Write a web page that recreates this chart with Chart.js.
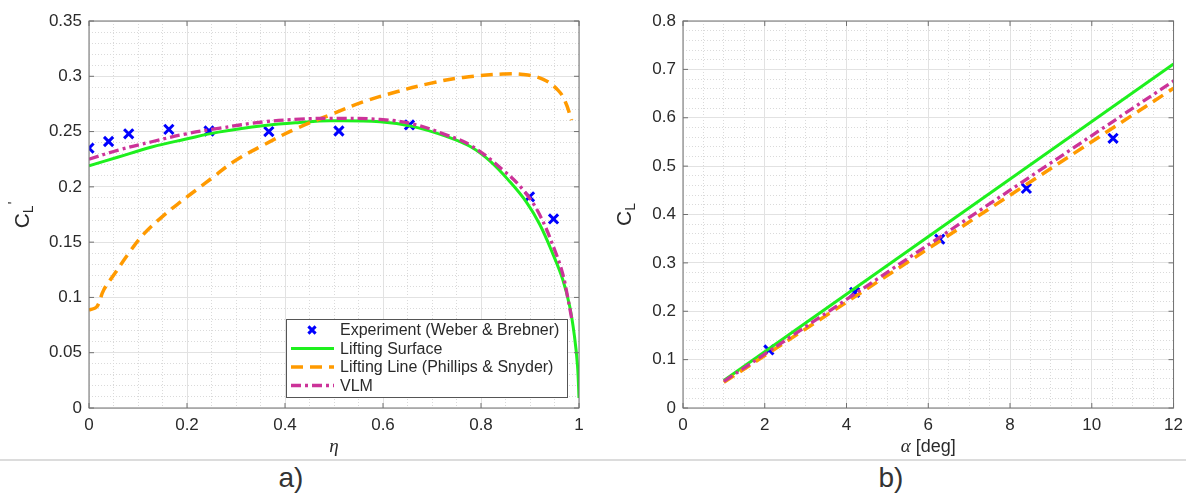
<!DOCTYPE html>
<html lang="en">
<head>
    <meta charset="UTF-8">
    <title>Spanwise lift distribution and lift curve</title>
    <script src="https://cdn.jsdelivr.net/npm/chart.js"></script>
    <style>
        body { margin: 0; background: #fff; }
        #wrap { position: relative; width: 1190px; height: 493px; }
        .panel { position: absolute; top: 0; width: 595px; height: 458px; }
        .sep { position: absolute; left: 0; top: 459px; width: 1186px; height: 2px; background: #dcdcdc; }
        .lab { position: absolute; top: 462px; font: 28px "Liberation Sans", Arial, sans-serif; color: #333; transform: translateX(-50%); }
    </style>
</head>
<body>
<div id="wrap">
    <div class="panel" style="left:0"><canvas id="chartA"></canvas></div>
    <div class="panel" style="left:595px"><canvas id="chartB"></canvas></div>
    <div class="sep"></div>
    <div class="lab" style="left:291px">a)</div>
    <div class="lab" style="left:891px">b)</div>
</div>

<script>
    // --- a) spanwise lift distribution ---
    const etaTicks = [0, 0.2, 0.4, 0.6, 0.8, 1];
    const clPrimeTicks = [0, 0.05, 0.1, 0.15, 0.2, 0.25, 0.3, 0.35];

    const expEta = [0, 0.04, 0.081, 0.163, 0.245, 0.367, 0.51, 0.654, 0.899, 0.948];
    const expClPrime = [0.235, 0.241, 0.248, 0.252, 0.2505, 0.25, 0.2505, 0.256, 0.191, 0.171];

    const lsEta = [0, 0.06, 0.128, 0.196, 0.264, 0.359, 0.43, 0.492, 0.594, 0.662, 0.73, 0.778, 0.818, 0.859, 0.893, 0.92, 0.947, 0.967, 0.981, 0.991, 0.997, 1.0];
    const lsClPrime = [0.219, 0.227, 0.236, 0.243, 0.2495, 0.2555, 0.2583, 0.2598, 0.2589, 0.2545, 0.2455, 0.2365, 0.2235, 0.2046, 0.186, 0.166, 0.139, 0.116, 0.092, 0.064, 0.038, 0.009];

    const llEta = [0, 0.016, 0.03, 0.054, 0.081, 0.111, 0.152, 0.19, 0.223, 0.254, 0.295, 0.356, 0.424, 0.492, 0.56, 0.628, 0.696, 0.764, 0.845, 0.886, 0.927, 0.957, 0.972, 0.985];
    const llClPrime = [0.0886, 0.0916, 0.1067, 0.1225, 0.1399, 0.157, 0.174, 0.1875, 0.1986, 0.209, 0.2227, 0.2378, 0.2529, 0.265, 0.277, 0.286, 0.2936, 0.299, 0.302, 0.3017, 0.2972, 0.2875, 0.277, 0.2604];

    const vlmEta = [0, 0.06, 0.128, 0.196, 0.264, 0.359, 0.43, 0.492, 0.594, 0.662, 0.73, 0.778, 0.845, 0.889, 0.92, 0.952, 0.967, 0.977, 0.985];
    const vlmClPrime = [0.225, 0.2333, 0.2408, 0.2477, 0.2529, 0.2589, 0.2612, 0.262, 0.261, 0.2568, 0.2468, 0.2378, 0.2152, 0.1956, 0.1745, 0.141, 0.121, 0.1, 0.081];

    // --- b) lift curve ---
    const alphaTicks = [0, 2, 4, 6, 8, 10, 12];
    const clTicks = [0, 0.1, 0.2, 0.3, 0.4, 0.5, 0.6, 0.7, 0.8];

    const expAlpha = [2.1, 4.2, 6.28, 8.4, 10.52];
    const expCl = [0.12, 0.239, 0.349, 0.454, 0.5575];

    const lineAlpha = [1, 12];
    const lsCl = [0.057, 0.711];
    const llCl = [0.053, 0.661];
    const vlmCl = [0.055, 0.676];

    const labels = ['Experiment (Weber & Brebner)', 'Lifting Surface', 'Lifting Line (Phillips & Snyder)', 'VLM'];

    const TXT = '#2a2a2a';
    const SANS = '"Liberation Sans", Arial, Helvetica, sans-serif';

    function pts(xs, ys) { return xs.map((x, i) => ({x: x, y: ys[i]})); }
    function isMajor(v, list) { return list.some(t => Math.abs(t - v) < 1e-9); }

    function makeDatasets(ex, ey, sx, sy, lx, ly, vx, vy) {
        return [
            { label: labels[0], data: pts(ex, ey), showLine: false, pointStyle: 'crossRot', pointRadius: 6.5,
              borderColor: '#0000ff', backgroundColor: '#0000ff', pointBorderWidth: 3, order: 4 },
            { label: labels[1], data: pts(sx, sy), showLine: true, pointRadius: 0, borderColor: '#1ef01e',
              borderWidth: 3, tension: 0.4, order: 3 },
            { label: labels[2], data: pts(lx, ly), showLine: true, pointRadius: 0, borderColor: '#ff9a00',
              borderWidth: 3.5, borderDash: [12, 7], tension: 0.4, order: 2 },
            { label: labels[3], data: pts(vx, vy), showLine: true, pointRadius: 0, borderColor: '#cc3399',
              borderWidth: 3.3, borderDash: [10, 4, 3, 4], tension: 0.4, order: 1 }
        ];
    }

    // box, inner tick marks, axis titles and legend
    const frame = {
        id: 'frame',
        afterDraw(chart, args, o) {
            const {ctx, chartArea: a, scales: {x, y}} = chart;
            ctx.save();
            ctx.strokeStyle = '#707070';
            ctx.lineWidth = 1;
            ctx.strokeRect(a.left, a.top, a.width, a.height);
            ctx.beginPath();
            o.xMajor.forEach(v => {
                const p = x.getPixelForValue(v);
                ctx.moveTo(p, a.bottom); ctx.lineTo(p, a.bottom - 5);
                ctx.moveTo(p, a.top); ctx.lineTo(p, a.top + 5);
            });
            o.yMajor.forEach(v => {
                const p = y.getPixelForValue(v);
                ctx.moveTo(a.left, p); ctx.lineTo(a.left + 5, p);
                ctx.moveTo(a.right, p); ctx.lineTo(a.right - 5, p);
            });
            ctx.stroke();

            // x title
            ctx.fillStyle = TXT;
            ctx.textBaseline = 'middle';
            const cx = (a.left + a.right) / 2, ty = a.bottom + 39;
            const f1 = 'italic 19px "Liberation Serif", "DejaVu Serif", serif';
            const f2 = '18px ' + SANS;
            ctx.font = f1; const w1 = ctx.measureText(o.xSym).width;
            ctx.font = f2; const w2 = ctx.measureText(o.xRest).width;
            let sx = cx - (w1 + w2) / 2;
            ctx.textAlign = 'left';
            ctx.font = f1; ctx.fillText(o.xSym, sx, ty);
            ctx.font = f2; ctx.fillText(o.xRest, sx + w1, ty);

            // y title: C with subscript L (and prime)
            ctx.save();
            ctx.translate(a.left - o.yTitleOff, (a.top + a.bottom) / 2);
            ctx.rotate(-Math.PI / 2);
            const fc = '21px ' + SANS, fs = '14px ' + SANS;
            ctx.font = fc; const wc = ctx.measureText('C').width;
            ctx.font = fs; const wl = ctx.measureText('L').width;
            const wp = o.prime ? ctx.measureText("'").width + 2 : 0;
            let px = -(wc + wl + wp) / 2;
            ctx.font = fc; ctx.fillText('C', px, 0);
            ctx.font = fs; ctx.fillText('L', px + wc, 6);
            if (o.prime) ctx.fillText("'", px + wc + wl + 1, -9);
            ctx.restore();

            // legend
            if (o.legend) {
                const bw = 281, bh = 78;
                const bx = a.right - 12 - bw, by = a.bottom - 11 - bh;
                ctx.fillStyle = '#fff';
                ctx.fillRect(bx, by, bw, bh);
                ctx.strokeStyle = '#555';
                ctx.lineWidth = 1;
                ctx.strokeRect(bx + 0.5, by + 0.5, bw, bh);
                ctx.font = '16px ' + SANS;
                chart.data.datasets.forEach((ds, i) => {
                    const ry = by + 11 + i * 18.5;
                    if (ds.showLine) {
                        ctx.strokeStyle = ds.borderColor;
                        ctx.lineWidth = ds.borderWidth;
                        ctx.setLineDash(ds.borderDash || []);
                        ctx.beginPath(); ctx.moveTo(bx + 5, ry); ctx.lineTo(bx + 48, ry); ctx.stroke();
                        ctx.setLineDash([]);
                    } else {
                        ctx.strokeStyle = ds.borderColor;
                        ctx.lineWidth = 3;
                        const m = 3.6, mx = bx + 26;
                        ctx.beginPath();
                        ctx.moveTo(mx - m, ry - m); ctx.lineTo(mx + m, ry + m);
                        ctx.moveTo(mx - m, ry + m); ctx.lineTo(mx + m, ry - m);
                        ctx.stroke();
                    }
                    ctx.fillStyle = TXT;
                    ctx.fillText(ds.label, bx + 54, ry + 1);
                });
            }
            ctx.restore();
        }
    };

    function axis(min, max, minor, major, pos, size) {
        const gen = [];
        for (let v = min; v <= max + minor / 2; v += minor) gen.push({value: +v.toFixed(6)});
        return {
            type: 'linear', position: pos, min: min, max: max,
            afterBuildTicks: s => { s.ticks = gen.map(t => ({value: t.value})); },
            afterFit: s => { if (pos === 'left') s.width = size; else s.height = size; },
            grid: {
                drawTicks: false,
                color: c => isMajor(c.tick.value, major) ? '#e2e2e2' : '#dadada',
                lineWidth: 1
            },
            border: { display: false, dash: c => (c.tick && isMajor(c.tick.value, major)) ? [] : [1, 2] },
            ticks: {
                autoSkip: false, maxRotation: 0, padding: 7, color: TXT,
                font: { family: SANS, size: 17 },
                callback: v => isMajor(v, major) ? String(major.find(t => Math.abs(t - v) < 1e-9)) : ''
            }
        };
    }

    function makeChart(id, datasets, sx, sy, frameOpts) {
        return new Chart(document.getElementById(id), {
            type: 'scatter',
            data: { datasets: datasets },
            options: {
                responsive: true, maintainAspectRatio: false, animation: false,
                layout: { padding: { left: 0, right: 16, top: 21, bottom: 0 } },
                plugins: { legend: { display: false }, tooltip: { enabled: false }, frame: frameOpts },
                scales: { x: sx, y: sy }
            },
            plugins: [frame]
        });
    }

    makeChart('chartA',
        makeDatasets(expEta, expClPrime, lsEta, lsClPrime, llEta, llClPrime, vlmEta, vlmClPrime),
        axis(0, 1, 0.05, etaTicks, 'bottom', 50),
        axis(0, 0.35, 0.01, clPrimeTicks, 'left', 89),
        { xMajor: etaTicks, yMajor: clPrimeTicks, xSym: 'η', xRest: '', yTitleOff: 66, prime: true, legend: true });

    makeChart('chartB',
        makeDatasets(expAlpha, expCl, lineAlpha, lsCl, lineAlpha, llCl, lineAlpha, vlmCl),
        axis(0, 12, 0.5, alphaTicks, 'bottom', 50),
        axis(0, 0.8, 0.02, clTicks, 'left', 88),
        { xMajor: alphaTicks, yMajor: clTicks, xSym: 'α', xRest: ' [deg]', yTitleOff: 58, prime: false, legend: false });
</script>
</body>
</html>
